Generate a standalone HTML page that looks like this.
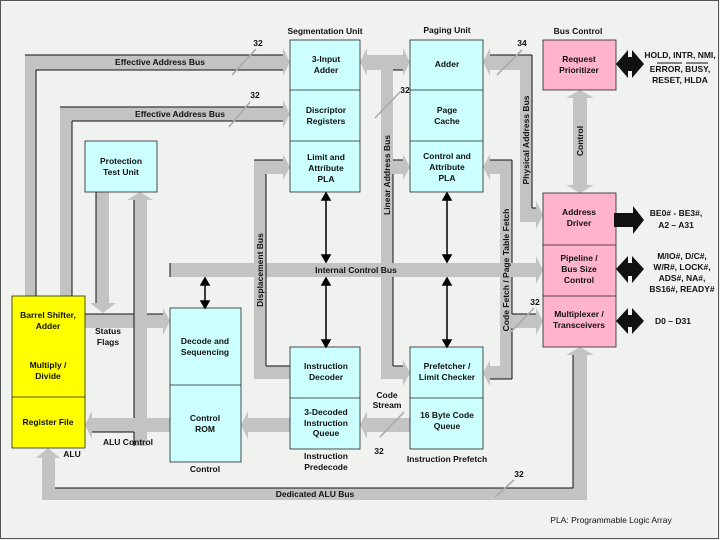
<!DOCTYPE html>
<html><head><meta charset="utf-8"><style>
body{margin:0;background:#f0f2f0}
svg{display:block}
text{font-family:"Liberation Sans",sans-serif;font-size:8.5px;font-weight:bold;fill:#111;text-anchor:middle}
.b{fill:#c3c3c3}
.l{stroke:#111;stroke-width:1;fill:none}
.s{stroke:#aaa;stroke-width:1.6}
</style></head><body>
<svg width="720" height="540" viewBox="0 0 720 540">
<rect x="0" y="0" width="720" height="540" fill="#f0f2f0"/>
<rect x="0.5" y="0.5" width="718" height="538" fill="none" stroke="#555" stroke-width="1"/>

<!-- Effective Address Bus 1 -->
<polygon class="b" points="25,55 283,55 283,48 290,62 283,76 283,70 36,70 36,296 25,296"/>
<line class="l" x1="25" y1="55" x2="283" y2="55"/><line class="l" x1="36" y1="70" x2="283" y2="70"/>
<line class="l" x1="36" y1="70" x2="36" y2="296"/>
<line class="s" x1="232" y1="75" x2="256" y2="49"/><text x="258" y="46">32</text>
<!-- EAB 2 -->
<polygon class="b" points="60,107 283,107 283,100 290,114 283,128 283,121 72,121 72,296 60,296"/>
<line class="l" x1="60" y1="107" x2="283" y2="107"/><line class="l" x1="72" y1="121" x2="283" y2="121"/>
<line class="l" x1="72" y1="121" x2="72" y2="296"/>
<line class="s" x1="229" y1="127" x2="250" y2="102"/><text x="255" y="98">32</text>

<!-- Protection arrows -->
<polygon class="b" points="96,192 109,192 109,303 116,303 103,313 90,303 96,303"/>
<line class="l" x1="96" y1="192" x2="96" y2="303"/>
<!-- Status flags -->
<polygon class="b" points="85,314 163,314 163,308 170,321 163,335 163,328 85,328"/>
<line class="l" x1="85" y1="314" x2="163" y2="314"/>
<polygon class="b" points="134,446 134,200 127,200 140,192 153,200 147,200 147,446"/>
<line class="l" x1="134" y1="200" x2="134" y2="446"/>
<text x="108" y="334">Status</text><text x="108" y="345">Flags</text>
<!-- ALU Control -->
<polygon class="b" points="170,418 92,418 92,411 85,425 92,439 92,432 170,432"/>
<line class="l" x1="92" y1="432" x2="134" y2="432"/>
<text x="128" y="445">ALU Control</text>
<!-- 3-decoded -> Control ROM -->
<polygon class="b" points="290,418 248,418 248,411 241,425 248,439 248,432 290,432"/>
<!-- Code stream -->
<polygon class="b" points="410,418 367,418 367,411 360,425 367,439 367,432 410,432"/>
<line class="s" x1="380" y1="437" x2="404" y2="412"/>
<text x="387" y="398">Code</text><text x="387" y="408">Stream</text><text x="379" y="454">32</text>

<!-- Dedicated ALU bus -->
<polygon class="b" points="42,500 42,458 36,458 48,448 60,458 55,458 55,488 573,488 573,355 566,355 580,347 594,355 587,355 587,500"/>
<line class="l" x1="55" y1="488" x2="573" y2="488"/><line class="l" x1="573" y1="355" x2="573" y2="488"/>
<line class="s" x1="495" y1="497" x2="514" y2="480"/><text x="519" y="477">32</text>

<!-- Internal control bus -->
<polygon class="b" points="170,263 536,263 536,256 543,270 536,284 536,277 170,277"/>
<line class="l" x1="170" y1="263" x2="170" y2="277"/>

<!-- Displacement bus -->
<polygon class="b" points="254,160 283,160 283,154 290,167 283,180 283,174 266,174 266,366 290,366 290,379 254,379"/>
<line class="l" x1="254" y1="160" x2="283" y2="160"/><line class="l" x1="266" y1="174" x2="266" y2="366"/><line class="l" x1="266" y1="366" x2="290" y2="366"/>

<!-- Linear address bus -->
<polygon class="b" points="367,55 403,55 403,48 410,62 403,76 403,70 393,70 393,160 403,160 403,154 410,167 403,180 403,174 393,174 393,366 403,366 403,360 410,373 403,386 403,379 381,379 381,70 367,70 367,76 360,62 367,48"/>
<line class="l" x1="393" y1="70" x2="403" y2="70"/><line class="l" x1="393" y1="160" x2="403" y2="160"/><line class="l" x1="393" y1="174" x2="393" y2="263"/><line class="l" x1="393" y1="277" x2="393" y2="366"/><line class="l" x1="393" y1="366" x2="403" y2="366"/>
<line class="s" x1="375" y1="118" x2="400" y2="92"/><text x="405" y="93">32</text>

<!-- Physical address bus -->
<polygon class="b" points="490,55 532,55 532,208 536,208 536,201 543,215 536,229 536,222 520,222 520,70 490,70 490,76 483,62 490,48"/>
<line class="l" x1="490" y1="55" x2="532" y2="55"/><line class="l" x1="532" y1="55" x2="532" y2="208"/><line class="l" x1="532" y1="208" x2="536" y2="208"/>
<line class="s" x1="497" y1="75" x2="522" y2="50"/><text x="522" y="46">34</text>

<!-- Code fetch / Page table fetch -->
<polygon class="b" points="490,160 512,160 512,314 536,314 536,308 543,321 536,335 536,328 512,328 512,379 490,379 490,386 483,373 490,360 490,366 500,366 500,174 490,174 490,180 483,167 490,154"/>
<line class="l" x1="490" y1="160" x2="512" y2="160"/><line class="l" x1="512" y1="160" x2="512" y2="263"/><line class="l" x1="512" y1="277" x2="512" y2="314"/><line class="l" x1="512" y1="314" x2="536" y2="314"/><line class="l" x1="512" y1="328" x2="512" y2="379"/><line class="l" x1="490" y1="379" x2="512" y2="379"/>
<line class="s" x1="510" y1="333" x2="534" y2="308"/><text x="535" y="305">32</text>

<!-- Control -->
<polygon class="b" points="573,98 566,98 580,90 594,98 587,98 587,185 594,185 580,193 566,185 573,185"/>

<!-- Bus labels (on top) -->
<text x="160" y="65">Effective Address Bus</text>
<text x="180" y="117">Effective Address Bus</text>
<text x="315" y="497">Dedicated ALU Bus</text>
<text x="356" y="273">Internal Control Bus</text>
<text transform="translate(263,270) rotate(-90)">Displacement Bus</text>
<text transform="translate(390,175) rotate(-90)">Linear Address Bus</text>
<text transform="translate(529,140) rotate(-90)">Physical Address Bus</text>
<text transform="translate(509,270) rotate(-90)">Code Fetch / Page Table Fetch</text>
<text transform="translate(583,141) rotate(-90)">Control</text>

<!-- Boxes -->
<g stroke="#222" stroke-width="0.8">
<rect x="290" y="40" width="70" height="152" fill="#ccffff"/>
<line x1="290" y1="90" x2="360" y2="90"/><line x1="290" y1="141" x2="360" y2="141"/>
<rect x="410" y="40" width="73" height="152" fill="#ccffff"/>
<line x1="410" y1="90" x2="483" y2="90"/><line x1="410" y1="141" x2="483" y2="141"/>
<rect x="85" y="141" width="72" height="51" fill="#ccffff"/>
<rect x="543" y="40" width="73" height="50" fill="#ffb3cc"/>
<rect x="543" y="193" width="73" height="154" fill="#ffb3cc"/>
<line x1="543" y1="245" x2="616" y2="245"/><line x1="543" y1="296" x2="616" y2="296"/>
<rect x="12" y="296" width="73" height="152" fill="#ffff00"/>
<line x1="12" y1="397" x2="85" y2="397"/>
<rect x="170" y="308" width="71" height="154" fill="#ccffff"/>
<line x1="170" y1="385" x2="241" y2="385"/>
<rect x="290" y="347" width="70" height="102" fill="#ccffff"/>
<line x1="290" y1="398" x2="360" y2="398"/>
<rect x="410" y="347" width="73" height="102" fill="#ccffff"/>
<line x1="410" y1="398" x2="483" y2="398"/>
</g>

<!-- thin double arrows -->
<g stroke="#000" stroke-width="1.5" fill="#000">
<line x1="326" y1="198" x2="326" y2="256"/><polygon points="322,200 326,193 330,200"/><polygon points="322,255 326,262 330,255"/>
<line x1="326" y1="283" x2="326" y2="341"/><polygon points="322,285 326,278 330,285"/><polygon points="322,340 326,347 330,340"/>
<line x1="447" y1="198" x2="447" y2="256"/><polygon points="443,200 447,193 451,200"/><polygon points="443,255 447,262 451,255"/>
<line x1="447" y1="283" x2="447" y2="341"/><polygon points="443,285 447,278 451,285"/><polygon points="443,340 447,347 451,340"/>
<line x1="205" y1="283" x2="205" y2="302"/><polygon points="201,285 205,278 209,285"/><polygon points="201,301 205,308 209,301"/>
</g>

<!-- black external arrows -->
<g fill="#111">
<polygon points="616,64 628,50 628,57 632,57 632,50 644,64 632,78 632,71 628,71 628,78"/>
<polygon points="614,213 633,213 633,206 644,220 633,234 633,227 614,227"/>
<polygon points="616,269 628,256 628,263 632,263 632,256 644,269 632,283 632,276 628,276 628,283"/>
<polygon points="616,321 628,308 628,315 632,315 632,308 644,321 632,334 632,327 628,327 628,334"/>
</g>

<!-- labels -->
<text x="325" y="34">Segmentation Unit</text>
<text x="447" y="33">Paging Unit</text>
<text x="578" y="34">Bus Control</text>
<text x="326" y="62">3-Input</text><text x="326" y="73">Adder</text>
<text x="326" y="113">Discriptor</text><text x="326" y="124">Registers</text>
<text x="326" y="160">Limit and</text><text x="326" y="171">Attribute</text><text x="326" y="182">PLA</text>
<text x="447" y="67">Adder</text>
<text x="447" y="113">Page</text><text x="447" y="124">Cache</text>
<text x="447" y="159">Control and</text><text x="447" y="170">Attribute</text><text x="447" y="181">PLA</text>
<text x="121" y="164">Protection</text><text x="121" y="175">Test Unit</text>
<text x="579" y="62">Request</text><text x="579" y="73">Prioritizer</text>
<text x="579" y="215">Address</text><text x="579" y="226">Driver</text>
<text x="579" y="261">Pipeline /</text><text x="579" y="272">Bus Size</text><text x="579" y="283">Control</text>
<text x="579" y="317">Multiplexer /</text><text x="579" y="328">Transceivers</text>
<text x="48" y="318">Barrel Shifter,</text><text x="48" y="329">Adder</text>
<text x="48" y="368">Multiply /</text><text x="48" y="379">Divide</text>
<text x="48" y="425">Register File</text>
<text x="205" y="344">Decode and</text><text x="205" y="355">Sequencing</text>
<text x="205" y="421">Control</text><text x="205" y="432">ROM</text>
<text x="205" y="472">Control</text>
<text x="72" y="457">ALU</text>
<text x="326" y="369">Instruction</text><text x="326" y="380">Decoder</text>
<text x="326" y="415">3-Decoded</text><text x="326" y="426">Instruction</text><text x="326" y="436">Queue</text>
<text x="326" y="459">Instruction</text><text x="326" y="470">Predecode</text>
<text x="447" y="369">Prefetcher /</text><text x="447" y="380">Limit Checker</text>
<text x="447" y="418">16 Byte Code</text><text x="447" y="429">Queue</text>
<text x="447" y="462">Instruction Prefetch</text>
<text x="680" y="58">HOLD, INTR, NMI,</text>
<text x="680" y="72">ERROR, BUSY,</text>
<line x1="657" y1="63" x2="682" y2="63" stroke="#111" stroke-width="1"/><line x1="686" y1="63" x2="708" y2="63" stroke="#111" stroke-width="1"/>
<text x="680" y="83">RESET, HLDA</text>
<text x="676" y="216">BE0# - BE3#,</text><text x="676" y="228">A2 – A31</text>
<text x="682" y="259">M/IO#, D/C#,</text><text x="682" y="270">W/R#, LOCK#,</text><text x="682" y="281">ADS#, NA#,</text><text x="682" y="292">BS16#, READY#</text>
<text x="673" y="324">D0 – D31</text>
<text x="611" y="523" style="font-weight:normal">PLA: Programmable Logic Array</text>
</svg>
</body></html>
